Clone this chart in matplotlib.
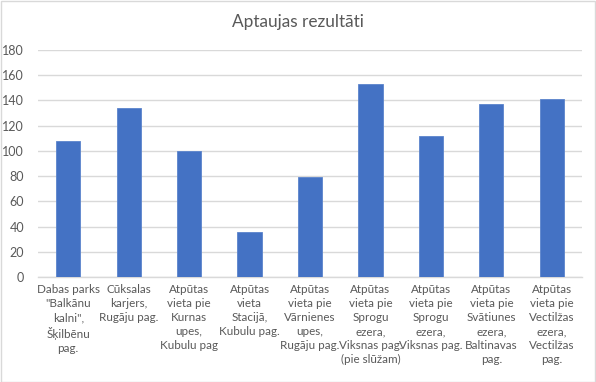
import matplotlib
matplotlib.use("Agg")
import matplotlib.pyplot as plt
from matplotlib.patches import Rectangle

categories = [
    'Dabas parks\n"Balkānu\nkalni",\nŠķilbēnu\npag.',
    'Cūksalas\nkarjers,\nRugāju pag.',
    'Atpūtas\nvieta pie\nKurnas\nupes,\nKubulu pag',
    'Atpūtas\nvieta\nStacijā,\nKubulu pag.',
    'Atpūtas\nvieta pie\nVārnienes\nupes,\nRugāju pag.',
    'Atpūtas\nvieta pie\nSprogu\nezera,\nViksnas pag.\n(pie slūžam)',
    'Atpūtas\nvieta pie\nSprogu\nezera,\nViksnas pag.',
    'Atpūtas\nvieta pie\nSvātiunes\nezera,\nBaltinavas\npag.',
    'Atpūtas\nvieta pie\nVectilžas\nezera,\nVectilžas\npag.',
]
values = [108, 134, 100, 36, 79, 153, 112, 137, 141]
yticks = [0, 20, 40, 60, 80, 100, 120, 140, 160, 180]
title = "Aptaujas rezultāti"

plt.rcParams['font.family'] = ['Lato', 'DejaVu Sans']

W, H = 596, 382
fig = plt.figure(figsize=(W / 100, H / 100), dpi=100)
ax = fig.add_axes([38 / W, 1 - 277 / H, (582 - 38) / W, (277 - 50) / H])

x = list(range(len(values)))
ax.bar(x, values, width=0.4, color='#4472C4', edgecolor='#5B84CC', linewidth=0.6, zorder=3)
ax.set_xlim(-0.5, len(values) - 0.5)
ax.set_ylim(0, 180)
ax.set_yticks(yticks)
ax.set_yticklabels([str(v) for v in yticks], fontsize=9, color='#595959')
ax.set_xticks(x)
ax.set_xticklabels(categories, fontsize=8.4, color='#595959', linespacing=1.34, va='top')
ax.tick_params(axis='both', length=0)
ax.tick_params(axis='x', pad=5)
ax.tick_params(axis='y', pad=10)
ax.grid(axis='y', color='#D9D9D9', linewidth=1, zorder=0)
for s in ['top', 'right', 'left']:
    ax.spines[s].set_visible(False)
ax.spines['bottom'].set_color('#D9D9D9')
ax.spines['bottom'].set_linewidth(1)

fig.text(0.5, 1 - 22 / H, title, ha='center', va='center', fontsize=12.4, color='#595959')
fig.patches.append(Rectangle((0.5 / W, 0.5 / H), 1 - 1.5 / W, 1 - 1.5 / H, transform=fig.transFigure,
                             fill=False, edgecolor='#D9D9D9', linewidth=1))

fig.savefig('out.png', dpi=100)
